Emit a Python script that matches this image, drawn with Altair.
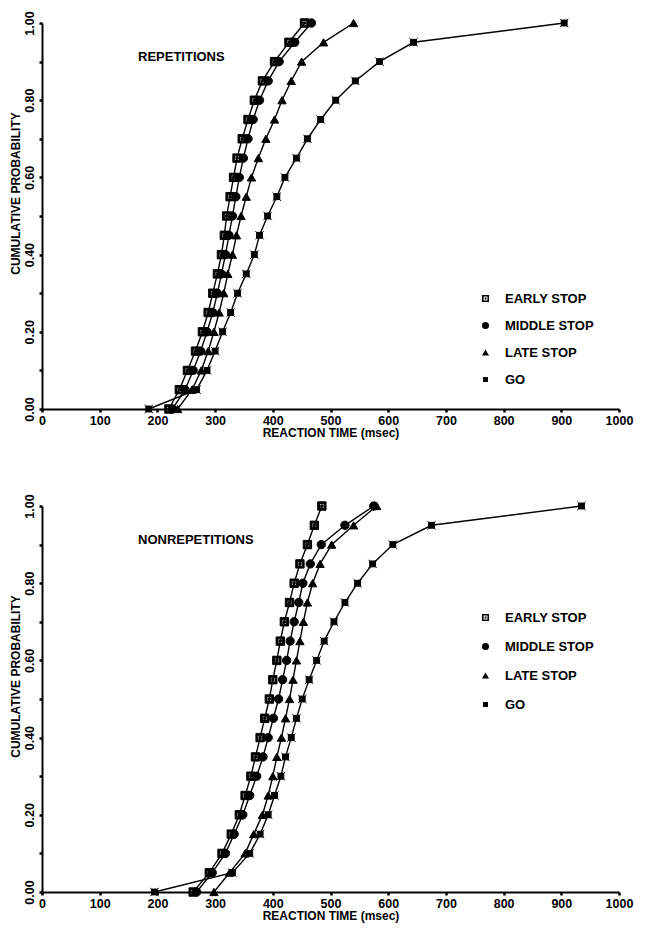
import altair as alt
import pandas as pd

# ---------------- data ----------------
probs = [0.00, 0.05, 0.10, 0.15, 0.20, 0.25, 0.30, 0.35, 0.40, 0.45, 0.50,
         0.55, 0.60, 0.65, 0.70, 0.75, 0.80, 0.85, 0.90, 0.95, 1.00]

series_names = ["EARLY STOP", "MIDDLE STOP", "LATE STOP", "GO"]

# Repetitions panel (reaction time, msec)
rep_early = [220, 238, 252, 266, 278, 288, 296, 304, 311, 316, 320,
             326, 332, 338, 347, 357, 368, 382, 403, 428, 455]
rep_middle = [226, 248, 262, 275, 286, 296, 304, 311, 318, 324, 330,
              336, 342, 349, 357, 366, 377, 392, 411, 438, 467]
rep_late = [235, 260, 276, 288, 298, 307, 315, 322, 330, 337, 345,
            354, 363, 375, 388, 403, 416, 432, 450, 488, 540]
rep_go = [185, 268, 286, 300, 313, 327, 339, 354, 368, 377, 391,
          407, 421, 441, 460, 483, 509, 543, 585, 644, 905]

# Nonrepetitions panel
non_early = [262, 290, 312, 328, 342, 352, 362, 370, 378, 386, 394,
             400, 407, 413, 420, 429, 437, 447, 460, 472, 485]
non_middle = [268, 295, 318, 333, 348, 360, 372, 383, 392, 401, 410,
              417, 424, 430, 437, 445, 452, 465, 484, 525, 575]
non_late = [298, 325, 352, 367, 382, 392, 400, 407, 415, 422, 429,
            435, 441, 447, 453, 460, 469, 482, 502, 540, 580]
non_go = [195, 330, 360, 378, 392, 403, 414, 422, 432, 441, 451,
          463, 476, 489, 506, 525, 547, 573, 608, 675, 935]

x_ticks = [0, 100, 200, 300, 400, 500, 600, 700, 800, 900, 1000]
y_ticks = [0.0, 0.1, 0.2, 0.3, 0.4, 0.5, 0.6, 0.7, 0.8, 0.9, 1.0]

# ---------------- styling ----------------
FONT = "Liberation Sans"
EARLY_PATH = ("M-1,-1L1,-1L1,1L-1,1Z "
              "M-0.55,-0.55L-0.55,0.55L0.55,0.55L0.55,-0.55Z "
              "M-0.25,-0.25L0.25,-0.25L0.25,0.25L-0.25,0.25Z")
GO_PATH = "M-0.7,-0.7H0.7V0.7H-0.7Z M-1,-1L1,1 M1,-1L-1,1"
shape_range = [EARLY_PATH, "circle", "triangle-up", GO_PATH]


def make_panel(early, middle, late, go, title, legend_y, row_pad):
    rows = []
    for name, vals in zip(series_names, [early, middle, late, go]):
        for p, v in zip(probs, vals):
            rows.append({"series": name, "rt": v, "p": p})
    df = pd.DataFrame(rows)

    x = alt.X(
        "rt:Q",
        scale=alt.Scale(domain=[0, 1000], nice=False),
        axis=alt.Axis(
            values=x_ticks, title="REACTION TIME (msec)", format="d",
            labelFlush=False, labelOverlap=False, labelPadding=2,
            titlePadding=1,
        ),
    )
    y = alt.Y(
        "p:Q",
        scale=alt.Scale(domain=[0, 1], nice=False),
        axis=alt.Axis(
            values=y_ticks,
            labelExpr="round(datum.value*10) % 2 == 0 ? format(datum.value, '.2f') : ''",
            title="CUMULATIVE PROBABILITY",
            labelAngle=270, labelAlign="center", labelBaseline="bottom",
            labelFlush=False, labelOverlap=False, labelPadding=3,
            titlePadding=1, titleY=170,
        ),
    )
    base = alt.Chart(df)
    lines = base.mark_line(color="black", strokeWidth=1.4).encode(
        x=x, y=y, detail="series:N", order="p:Q"
    )
    points = base.mark_point(
        filled=True, size=70, opacity=1, color="black",
        stroke="black", strokeWidth=1, strokeOpacity=1,
    ).encode(
        x=x,
        y=y,
        shape=alt.Shape(
            "series:N",
            scale=alt.Scale(domain=series_names, range=shape_range),
            sort=series_names,
            legend=alt.Legend(
                title=None, orient="none", legendX=437, legendY=legend_y,
                padding=0, rowPadding=row_pad, labelOffset=13,
                labelFont=FONT, labelFontSize=13, labelFontWeight="bold",
                labelColor="black", symbolFillColor="black",
                symbolStrokeColor="black", symbolSize=50,
                symbolStrokeWidth=1,
            ),
        ),
    )
    return alt.layer(lines, points).properties(
        width=577,
        height=386,
        title=alt.TitleParams(
            text=title, anchor="start", frame="group", offset=0,
            dx=96, dy=53, font=FONT, fontSize=13, fontWeight="bold",
            color="black",
        ),
    )


top = make_panel(rep_early, rep_middle, rep_late, rep_go,
                 "REPETITIONS", 269, 13)
bottom = make_panel(non_early, non_middle, non_late, non_go,
                    "NONREPETITIONS", 105, 15)

chart = (
    alt.vconcat(top, bottom, spacing=97, bounds="flush")
    .resolve_scale(shape="independent")
    .resolve_legend(shape="independent")
    .properties(padding={"left": 1, "top": 2, "right": 4, "bottom": 4})
    .configure_view(stroke=None)
    .configure_axis(
        grid=False,
        domainColor="black", domainWidth=2,
        tickColor="black", tickWidth=2.5, tickSize=3,
        labelColor="black", labelFont=FONT, labelFontSize=12.5,
        labelFontWeight="bold",
        titleColor="black", titleFont=FONT, titleFontSize=12,
        titleFontWeight="bold",
    )
)

chart.save("out.html", embed_options={"renderer": "svg", "actions": False})
